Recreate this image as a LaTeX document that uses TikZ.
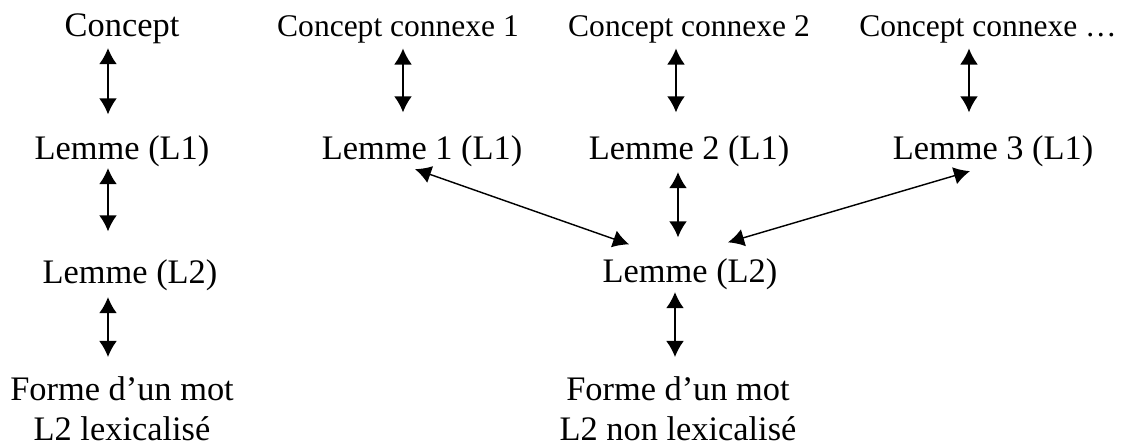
\documentclass[tikz,border=0pt]{standalone}
\usepackage{fontspec}
\setmainfont{Liberation Serif}
\usetikzlibrary{arrows.meta}

\tikzset{
  lbl/.style={inner sep=0pt, anchor=base, font=\fontsize{12}{14}\selectfont,
    text height=8.4pt, text depth=2.64pt},
  lblsmall/.style={lbl, font=\fontsize{11}{13}\selectfont,
    text height=7.7pt, text depth=2.42pt},
  lblform/.style={inner sep=0pt, anchor=north, align=center,
    font=\fontsize{12}{14}\selectfont},
  link/.style={{Latex[length=5.6pt,width=6.2pt]}-{Latex[length=5.6pt,width=6.2pt]},
    line width=0.5pt}
}

\begin{document}
\begin{tikzpicture}[x=0.349pt, y=-0.349pt]
\useasboundingbox (0,0) rectangle (1130,445);

% === lexicalised word ===
\node[lbl] (c0) at (122,37) {Concept};
\node[lbl] (l0) at (122,160) {Lemme (L1)};
\node[lbl] (m0) at (130,284) {Lemme (L2)};
\node[lblform] (f0) at (122,376) {Forme d’un mot\\L2 lexicalisé};

\draw[link] ([shift={(-14,3)}]c0.south) -- ([shift={(-14,-21)}]l0.north);
\draw[link] ([shift={(-14,0)}]l0.south) -- ([shift={(-22,-28)}]m0.north);
\draw[link] ([shift={(-22,5)}]m0.south) -- ([shift={(-14,-19)}]f0.north);

% === non lexicalised word ===
\node[lblsmall] (c1) at (398,37) {Concept connexe 1};
\node[lblsmall] (c2) at (689,37) {Concept connexe 2};
\node[lblsmall] (c3) at (988,37) {Concept connexe …};
\node[lbl] (l1) at (422,160) {Lemme 1 (L1)};
\node[lbl] (l2) at (689,160) {Lemme 2 (L1)};
\node[lbl] (l3) at (993,160) {Lemme 3 (L1)};
\node[lbl] (m1) at (690,283) {Lemme (L2)};
\node[lblform] (f1) at (678,376) {Forme d’un mot\\L2 non lexicalisé};

\draw[link] ([shift={(5,4)}]c1.south) -- ([shift={(-19,-23)}]l1.north);
\draw[link] ([shift={(-13,4)}]c2.south) -- ([shift={(-13,-23)}]l2.north);
\draw[link] ([shift={(-19,4)}]c3.south) -- ([shift={(-24,-23)}]l3.north);

\draw[link] ([shift={(-7,1)}]l1.south) -- ([shift={(27,-14)}]m1.north west);
\draw[link] ([shift={(-11,4)}]l2.south) -- ([shift={(-12,-21)}]m1.north);
\draw[link] ([shift={(-23,3)}]l3.south) -- ([shift={(38,-16)}]m1.north);
\draw[link] ([shift={(-15,1)}]m1.south) -- ([shift={(-3,-19)}]f1.north);

\end{tikzpicture}
\end{document}
